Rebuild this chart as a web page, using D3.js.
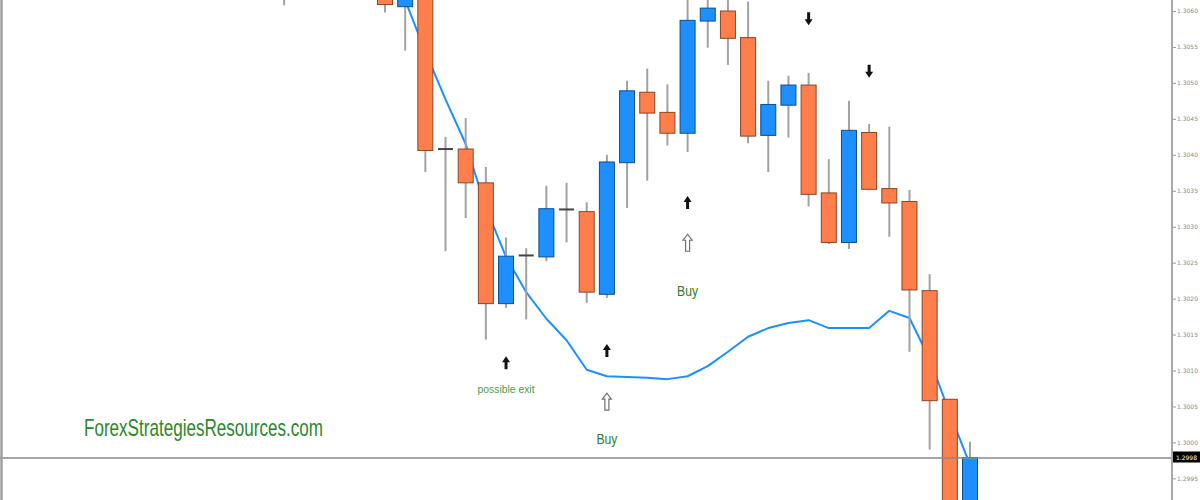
<!DOCTYPE html>
<html>
<head>
<meta charset="utf-8">
<script src="https://cdn.jsdelivr.net/npm/d3@7"></script>
<style>
  body { margin: 0; background: #fff; }
  svg { display: block; }
</style>
</head>
<body>
<div id="chart"></div>
<script>
// bar number (0 = first fully visible candle), open / high / low / close
var barIdx = [-5, 0, 1, 2, 3, 4, 5, 6, 7, 8, 9, 10, 11, 12, 13, 14, 15, 16, 17, 18, 19, 20, 21, 22, 23, 24, 25, 26, 27, 28, 29];
var openP  = [1.30643, 1.30629, 1.30606, 1.30626, 1.30408, 1.30408, 1.30361, 1.30193, 1.30260, 1.30258, 1.30324, 1.30321, 1.30206, 1.30389, 1.30487, 1.30459, 1.30430, 1.30586, 1.30600, 1.30563, 1.30427, 1.30469, 1.30497, 1.30347, 1.30278, 1.30431, 1.30353, 1.30335, 1.30211, 1.30060, 1.29892];
var highP  = [1.30657, 1.30643, 1.30632, 1.30636, 1.30425, 1.30451, 1.30383, 1.30285, 1.30270, 1.30357, 1.30361, 1.30334, 1.30400, 1.30503, 1.30520, 1.30498, 1.30618, 1.30619, 1.30618, 1.30613, 1.30503, 1.30510, 1.30514, 1.30394, 1.30475, 1.30443, 1.30439, 1.30351, 1.30234, 1.30060, 1.30001];
var lowP   = [1.30608, 1.30598, 1.30545, 1.30376, 1.30266, 1.30312, 1.30143, 1.30187, 1.30171, 1.30252, 1.30278, 1.30194, 1.30201, 1.30326, 1.30364, 1.30413, 1.30404, 1.30549, 1.30525, 1.30416, 1.30376, 1.30424, 1.30328, 1.30276, 1.30269, 1.30352, 1.30286, 1.30126, 1.29990, 1.29857, 1.29880];
var closeP = [1.30624, 1.30609, 1.30622, 1.30406, 1.30408, 1.30361, 1.30193, 1.30259, 1.30260, 1.30325, 1.30324, 1.30209, 1.30390, 1.30489, 1.30458, 1.30430, 1.30587, 1.30604, 1.30562, 1.30426, 1.30470, 1.30497, 1.30345, 1.30278, 1.30434, 1.30352, 1.30333, 1.30212, 1.30058, 1.29878, 1.29979];

// moving average line
var maIdx = [0, 1, 2, 3, 4, 5, 6, 7, 8, 9, 10, 11, 12, 13, 14, 15, 16, 17, 18, 19, 20, 21, 22, 23, 24, 25, 26, 27, 28, 29];
var maVal = [1.30678, 1.30615, 1.30543, 1.30477, 1.30415, 1.30327, 1.30258, 1.30209, 1.30172, 1.30142, 1.30101, 1.30092, 1.30091, 1.30090, 1.30088, 1.30092, 1.30106, 1.30126, 1.30147, 1.30159, 1.30166, 1.30170, 1.30159, 1.30159, 1.30159, 1.30183, 1.30173, 1.30116, 1.30040, 1.29969];

// solid signal arrows
var sigBar   = [21, 24, 15, 6, 11];
var sigPrice = [1.30590, 1.30517, 1.30333, 1.30110, 1.30127];
var sigDir   = ["down", "down", "up", "up", "up"];

// hollow buy arrows + notes
var buyBar   = [15, 11];
var buyPrice = [1.30277, 1.30056];
var noteBar   = [15, 11, 6];
var notePrice = [1.30209, 1.30003, 1.30073];
var noteText  = ["Buy", "Buy", "possible exit"];

// price scale ticks
var tickValues = [1.3060, 1.3055, 1.3050, 1.3045, 1.3040, 1.3035, 1.3030, 1.3025, 1.3020, 1.3015, 1.3010, 1.3005, 1.3000, 1.2995];

var W = 1200, H = 500, axisX = 1172;
var narrow = "'Liberation Sans Narrow', 'Arial Narrow', 'Liberation Sans', sans-serif";

var svg = d3.select("#chart")
    .append("svg")
    .attr("width", W)
    .attr("height", H);

svg.append("defs").append("clipPath")
    .attr("id", "plotclip")
    .append("rect")
    .attr("x", 0).attr("y", 0)
    .attr("width", axisX).attr("height", H);

var x = d3.scaleLinear()
    .domain([0, 29])
    .range([385, 970]);

var y = d3.scaleLinear()
    .domain([1.2995, 1.3060])
    .range([11 + 13 * 35.95, 11]);

var plot = svg.append("g").attr("clip-path", "url(#plotclip)");

var bars = barIdx.map(function (b, i) {
    return { i: b, o: openP[i], h: highP[i], l: lowP[i], c: closeP[i] };
});

// current price line
var lastClose = closeP[closeP.length - 1];
svg.append("line")
    .attr("x1", 0).attr("x2", axisX)
    .attr("y1", y(lastClose) + 0.5).attr("y2", y(lastClose) + 0.5)
    .attr("stroke", "#8a8a8a")
    .attr("stroke-width", 1.6);

// moving average (drawn under the candles)
plot.append("path")
    .datum(maIdx.map(function (b, i) { return [b, maVal[i]]; }))
    .attr("fill", "none")
    .attr("stroke", "#1e8fff")
    .attr("stroke-width", 2)
    .attr("stroke-linejoin", "round")
    .attr("d", d3.line()
        .x(function (d) { return x(d[0]); })
        .y(function (d) { return y(d[1]); }));

// wicks
plot.selectAll(".wick")
    .data(bars)
    .enter()
    .append("line")
    .attr("x1", function (d) { return x(d.i); })
    .attr("x2", function (d) { return x(d.i); })
    .attr("y1", function (d) { return y(d.h); })
    .attr("y2", function (d) { return y(d.l); })
    .attr("stroke", "#a2a2a2")
    .attr("stroke-width", 2);

// bodies
var bw = 15;
plot.selectAll(".body")
    .data(bars.filter(function (d) { return d.o !== d.c; }))
    .enter()
    .append("rect")
    .attr("x", function (d) { return x(d.i) - bw / 2; })
    .attr("y", function (d) { return y(Math.max(d.o, d.c)); })
    .attr("width", bw)
    .attr("height", function (d) { return Math.abs(y(d.o) - y(d.c)); })
    .attr("fill", function (d) { return d.c > d.o ? "#1e8fff" : "#fe7f4c"; })
    .attr("stroke", function (d) { return d.c > d.o ? "#0d4f8c" : "#8c4524"; })
    .attr("stroke-width", 1);

// doji
plot.selectAll(".doji")
    .data(bars.filter(function (d) { return d.o === d.c; }))
    .enter()
    .append("line")
    .attr("x1", function (d) { return x(d.i) - bw / 2; })
    .attr("x2", function (d) { return x(d.i) + bw / 2; })
    .attr("y1", function (d) { return y(d.o); })
    .attr("y2", function (d) { return y(d.o); })
    .attr("stroke", "#444")
    .attr("stroke-width", 2);

// solid arrows
var upArrow = "M0,-7 L-4,-1 L-1.5,-1 L-1.5,6 L1.5,6 L1.5,-1 L4,-1 Z";
var downArrow = "M0,7 L-4,1 L-1.5,1 L-1.5,-6 L1.5,-6 L1.5,1 L4,1 Z";
plot.selectAll(".sig")
    .data(sigBar)
    .enter()
    .append("path")
    .attr("transform", function (d, i) { return "translate(" + x(d) + "," + y(sigPrice[i]) + ")"; })
    .attr("d", function (d, i) { return sigDir[i] === "up" ? upArrow : downArrow; })
    .attr("fill", "#111");

// hollow buy arrows
plot.selectAll(".buy")
    .data(buyBar)
    .enter()
    .append("path")
    .attr("transform", function (d, i) { return "translate(" + x(d) + "," + y(buyPrice[i]) + ")"; })
    .attr("d", "M0,-9 L-4.5,-3 L-2,-3 L-2,8 L2,8 L2,-3 L4.5,-3 Z")
    .attr("fill", "#fff")
    .attr("stroke", "#707070")
    .attr("stroke-width", 1.2);

// notes
plot.selectAll(".note")
    .data(noteBar)
    .enter()
    .append("text")
    .attr("x", function (d) { return x(d); })
    .attr("y", function (d, i) { return y(notePrice[i]); })
    .attr("text-anchor", "middle")
    .attr("dominant-baseline", "middle")
    .attr("textLength", function (d, i) { return noteText[i] === "Buy" ? 21 : 57; })
    .attr("lengthAdjust", "spacingAndGlyphs")
    .style("font-family", narrow)
    .style("font-size", function (d, i) { return noteText[i] === "Buy" ? "15px" : "10px"; })
    .attr("fill", function (d, i) { return noteText[i] === "Buy" ? "#2e7d2e" : "#4c9a4c"; })
    .text(function (d, i) { return noteText[i]; });

// site label
svg.append("text")
    .attr("x", 84)
    .attr("y", 436)
    .attr("textLength", 239)
    .attr("lengthAdjust", "spacingAndGlyphs")
    .style("font-family", narrow)
    .style("font-size", "24px")
    .attr("fill", "#2d862d")
    .text("ForexStrategiesResources.com");

// left frame
svg.append("line")
    .attr("x1", 1.5).attr("x2", 1.5)
    .attr("y1", 0).attr("y2", H)
    .attr("stroke", "#a0a0a0")
    .attr("stroke-width", 2.5);

// right price axis
var axis = svg.append("g")
    .attr("transform", "translate(" + axisX + ",0)")
    .call(d3.axisRight(y)
        .tickValues(tickValues)
        .tickSize(4)
        .tickFormat(d3.format(".4f")));
axis.select(".domain").remove();
axis.selectAll(".tick line").attr("stroke", "#999");
axis.selectAll(".tick text")
    .attr("x", 5)
    .attr("fill", "#8a8a8a")
    .style("font-family", "'DejaVu Sans', sans-serif")
    .style("font-size", "6px");

svg.append("line")
    .attr("x1", axisX).attr("x2", axisX)
    .attr("y1", 0).attr("y2", H)
    .attr("stroke", "#a8a8a8")
    .attr("stroke-width", 2);

// current price box
svg.append("rect")
    .attr("x", axisX + 1)
    .attr("y", y(lastClose) - 6)
    .attr("width", W - axisX)
    .attr("height", 11)
    .attr("fill", "#000");
svg.append("text")
    .attr("x", axisX + 4)
    .attr("y", y(lastClose) + 0.5)
    .attr("dominant-baseline", "middle")
    .attr("fill", "#fff")
    .style("font-family", "'DejaVu Sans', sans-serif")
    .style("font-size", "6px")
    .text(d3.format(".4f")(lastClose));
</script>
</body>
</html>
